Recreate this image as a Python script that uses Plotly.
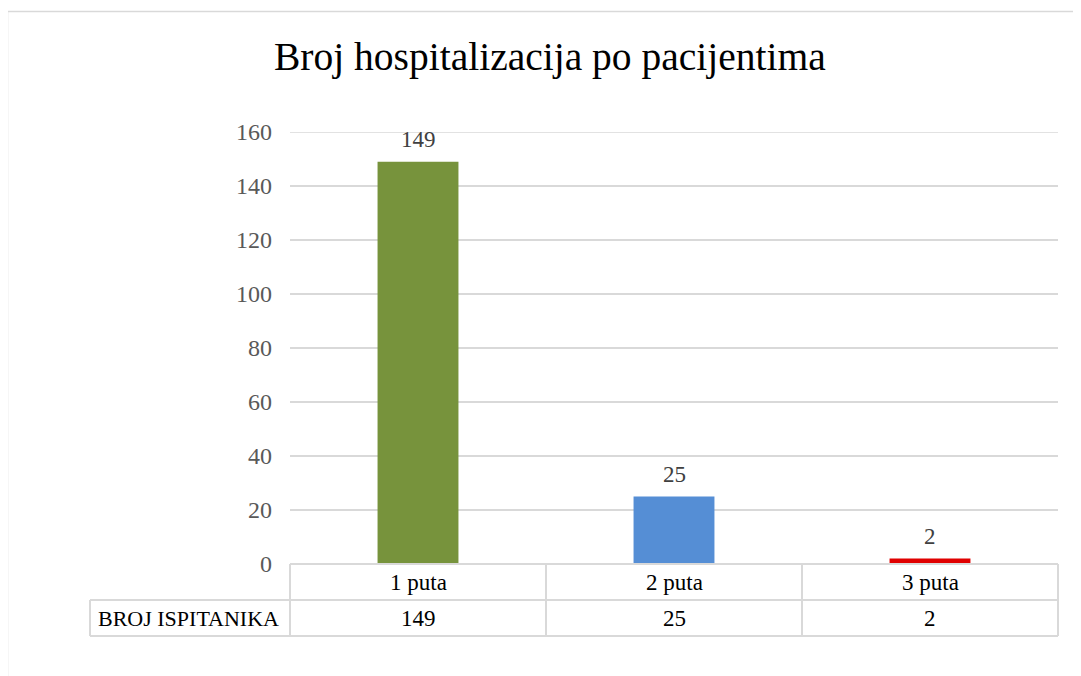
import plotly.graph_objects as go

categories = ["1 puta", "2 puta", "3 puta"]
values = [149, 25, 2]
colors = ["#77933C", "#558ED5", "#E00000"]
series_name = "BROJ ISPITANIKA"
title_text = "Broj hospitalizacija po pacijentima"
y_ticks = [0, 20, 40, 60, 80, 100, 120, 140, 160]

FONT = "Liberation Serif"
W, H = 1081, 676
OFF = 8  # page offset of the rendered figure
L, R, T, B = 290 - OFF, 23 + OFF, 132 - OFF, 112 + OFF
PW, PH = W - L - R, H - T - B

def px(x):
    return (x - OFF - L) / PW

def py(y):
    return (H - B - (y - OFF)) / PH

fig = go.Figure()
fig.add_trace(go.Bar(
    x=categories, y=values, marker_color=colors, width=0.316,
    marker_line_width=0, showlegend=False, hoverinfo="skip"))

grid = "#D9D9D9"
shapes = []
def line(x0, y0, x1, y1, w=2, color=grid):
    shapes.append(dict(type="line", xref="paper", yref="paper",
                       x0=px(x0), y0=py(y0), x1=px(x1), y1=py(y1),
                       line=dict(color=color, width=w), layer="above"))

# top gridline (at the range edge)
shapes.append(dict(type="line", xref="paper", yref="y", x0=0, x1=1,
                   y0=y_ticks[-1], y1=y_ticks[-1],
                   line=dict(color=grid, width=1.5), layer="below"))
# table grid
line(290, 564, 1058, 564)
line(90, 600, 1058, 600)
line(90, 636, 1058, 636)
line(90, 600, 90, 636)
for i in range(len(categories) + 1):
    x = 290 + i * PW / len(categories)
    line(x, 564, x, 636)
# outer chart border
line(7, 11.5, 1100, 11.5, w=1.5)
line(7.5, 11, 7.5, 700, w=1.5)

TS = 23
annotations = []
n = len(categories)
for i, (c, v) in enumerate(zip(categories, values)):
    annotations.append(dict(x=c, y=v, xref="x", yref="y", text=str(v),
                            showarrow=False, yanchor="bottom", yshift=8,
                            font=dict(family=FONT, size=TS, color="#404040")))
    xc = px(290 + (i + 0.5) * PW / n)
    annotations.append(dict(x=xc, y=py(582), xref="paper", yref="paper", text=c,
                            showarrow=False, xanchor="center", yanchor="middle",
                            font=dict(family=FONT, size=TS, color="#000000")))
    annotations.append(dict(x=xc, y=py(618), xref="paper", yref="paper", text=str(v),
                            showarrow=False, xanchor="center", yanchor="middle",
                            font=dict(family=FONT, size=TS, color="#000000")))
annotations.append(dict(x=px(96), y=py(618), xref="paper", yref="paper", text=series_name,
                        showarrow=False, xanchor="left", yanchor="middle",
                        font=dict(family=FONT, size=22, color="#000000")))
annotations.append(dict(x=px(550), y=py(57), xref="paper", yref="paper", text=title_text,
                        showarrow=False, xanchor="center", yanchor="middle",
                        font=dict(family=FONT, size=39.5, color="#000000")))

fig.update_layout(
    width=W, height=H, autosize=False,
    margin=dict(l=L, r=R, t=T, b=B, pad=0),
    paper_bgcolor="white", plot_bgcolor="white",
    shapes=shapes, annotations=annotations,
    xaxis=dict(showticklabels=False, showgrid=False, zeroline=False, showline=False,
               ticks="", fixedrange=True),
    yaxis=dict(range=[0, 160], tickvals=y_ticks, showgrid=True, gridcolor=grid,
               gridwidth=1.5, zeroline=False, showline=False, ticks="",
               ticklabelstandoff=17,
               tickfont=dict(family=FONT, size=24, color="#595959"), fixedrange=True),
)

fig.write_html("out.html")
